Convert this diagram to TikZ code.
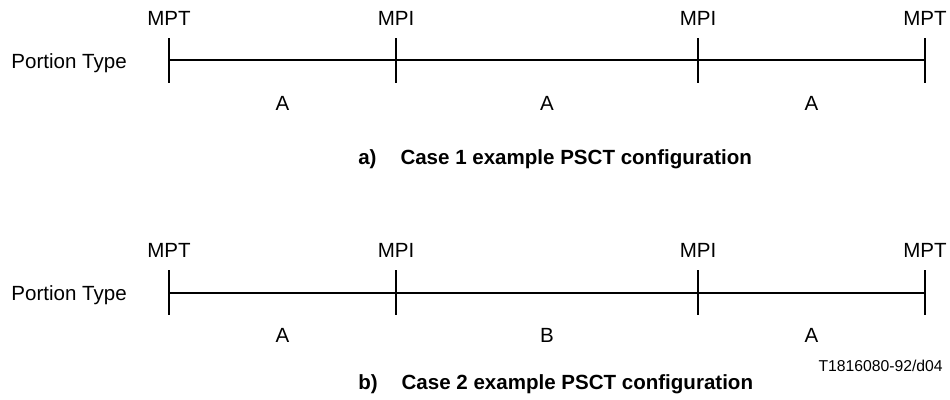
\documentclass[tikz,border=0pt]{standalone}
\usepackage{fontspec}
\setmainfont{Liberation Sans}
\usepackage{tikz}
\usetikzlibrary{positioning}
\tikzstyle{lbl}=[inner sep=0pt, font=\fontsize{15.4}{18}\selectfont]
\tikzstyle{capt}=[inner sep=0pt, font=\fontsize{15.4}{18}\selectfont\bfseries]
\tikzstyle{code}=[inner sep=0pt, font=\fontsize{11.8}{14}\selectfont]
\tikzstyle{bar}=[line width=1.5pt]

\begin{document}
\begin{tikzpicture}[x=0.75pt, y=-0.75pt]
    \useasboundingbox (0,0) rectangle (950,400);

    % a) case 1
    \coordinate (a1) at (169,60);  \coordinate (a1t) at (169,38);  \coordinate (a1b) at (169,83);
    \coordinate (a2) at (396,60);  \coordinate (a2t) at (396,38);  \coordinate (a2b) at (396,83);
    \coordinate (a3) at (698,60);  \coordinate (a3t) at (698,38);  \coordinate (a3b) at (698,83);
    \coordinate (a4) at (925,60);  \coordinate (a4t) at (925,38);  \coordinate (a4b) at (925,83);
    \draw[bar] (a1) -- (a4);
    \draw[bar] (a1t) -- (a1b);
    \draw[bar] (a2t) -- (a2b);
    \draw[bar] (a3t) -- (a3b);
    \draw[bar] (a4t) -- (a4b);
    \node[lbl, anchor=base] (ma1) at (169,25) {MPT};
    \node[lbl, anchor=base] (ma2) at (396,25) {MPI};
    \node[lbl, anchor=base] (ma3) at (698,25) {MPI};
    \node[lbl, anchor=base] (ma4) at (925,25) {MPT};
    \node[lbl, anchor=base east] (pta) at (127,68) {Portion Type};
    \node[lbl, anchor=base] (sa1) at (282.5,110) {A};
    \node[lbl, anchor=base] (sa2) at (547,110) {A};
    \node[lbl, anchor=base] (sa3) at (811.5,110) {A};
    \node[capt, anchor=base west] (capa) at (358,164) {a)\hspace{18pt}Case 1 example PSCT configuration};

    % b) case 2
    \coordinate (b1) at (169,293);  \coordinate (b1t) at (169,270);  \coordinate (b1b) at (169,315);
    \coordinate (b2) at (396,293);  \coordinate (b2t) at (396,270);  \coordinate (b2b) at (396,315);
    \coordinate (b3) at (698,293);  \coordinate (b3t) at (698,270);  \coordinate (b3b) at (698,315);
    \coordinate (b4) at (925,293);  \coordinate (b4t) at (925,270);  \coordinate (b4b) at (925,315);
    \draw[bar] (b1) -- (b4);
    \draw[bar] (b1t) -- (b1b);
    \draw[bar] (b2t) -- (b2b);
    \draw[bar] (b3t) -- (b3b);
    \draw[bar] (b4t) -- (b4b);
    \node[lbl, anchor=base] (mb1) at (169,257) {MPT};
    \node[lbl, anchor=base] (mb2) at (396,257) {MPI};
    \node[lbl, anchor=base] (mb3) at (698,257) {MPI};
    \node[lbl, anchor=base] (mb4) at (925,257) {MPT};
    \node[lbl, anchor=base east] (ptb) at (127,300) {Portion Type};
    \node[lbl, anchor=base] (sb1) at (282.5,342) {A};
    \node[lbl, anchor=base] (sb2) at (547,342) {B};
    \node[lbl, anchor=base] (sb3) at (811.5,342) {A};
    \node[code, anchor=base east] (fig) at (943,371.5) {T1816080-92/d04};
    \node[capt, anchor=base west] (capb) at (358,389) {b)\hspace{18pt}Case 2 example PSCT configuration};
\end{tikzpicture}
\end{document}
